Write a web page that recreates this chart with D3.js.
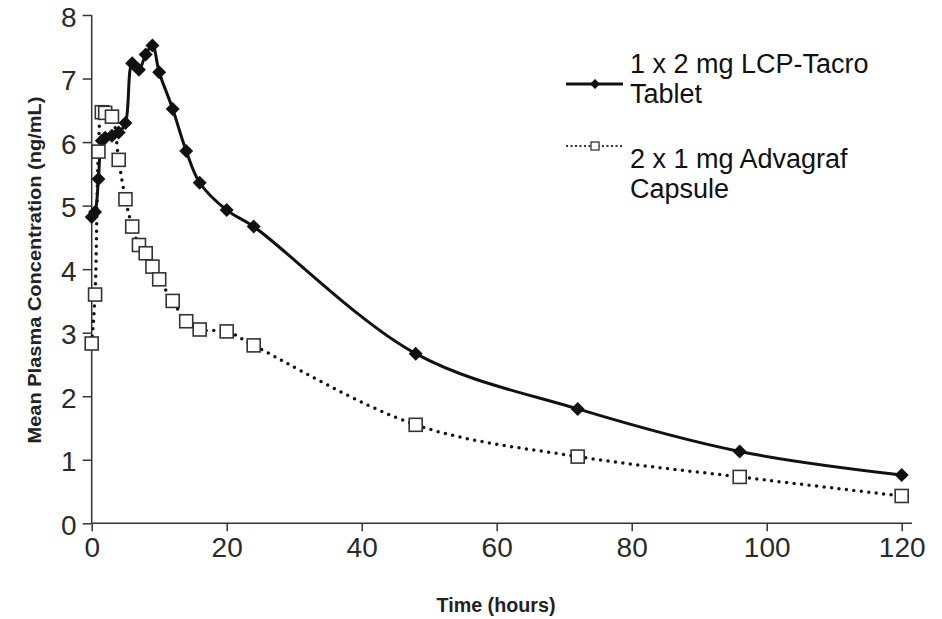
<!DOCTYPE html>
<html>
<head>
<meta charset="utf-8">
<script src="https://cdn.jsdelivr.net/npm/d3@7/dist/d3.min.js"></script>
<style>
  body { margin: 0; background: #fff; }
  svg { display: block; font-family: "Liberation Sans", Arial, sans-serif; }
</style>
</head>
<body>
<div class="chart"></div>
<script>
// sampling times (hours)
var timeHours = [0, 0.5, 1, 1.5, 2, 3, 4, 5, 6, 7, 8, 9, 10, 12, 14, 16, 20, 24, 48, 72, 96, 120];
// mean plasma concentration (ng/mL)
var lcpTacro = [4.82, 4.9, 5.42, 6.02, 6.07, 6.1, 6.15, 6.3, 7.24, 7.14, 7.38, 7.52, 7.1, 6.52, 5.86, 5.36, 4.93, 4.67, 2.67, 1.8, 1.13, 0.76];
var advagraf = [2.83, 3.6, 5.85, 6.47, 6.46, 6.4, 5.72, 5.1, 4.67, 4.38, 4.25, 4.04, 3.84, 3.5, 3.18, 3.05, 3.02, 2.8, 1.55, 1.05, 0.73, 0.43];
var xTicks = [0, 20, 40, 60, 80, 100, 120];
var yTicks = [0, 1, 2, 3, 4, 5, 6, 7, 8];
var seriesNames = [["1 x 2 mg LCP-Tacro", "Tablet"], ["2 x 1 mg Advagraf", "Capsule"]];

var width = 942, height = 619;

var svg = d3.select(".chart")
  .append("svg")
  .attr("width", width)
  .attr("height", height);

var x = d3.scaleLinear().domain([0, 120]).range([91.7, 901.7]);
var y = d3.scaleLinear().domain([0, 8]).range([523.3, 15]);

// y axis
var yAxis = svg.append("g")
  .attr("transform", "translate(" + x(0) + ",0)")
  .call(d3.axisLeft(y).tickValues(yTicks).tickSize(9).tickPadding(6).tickFormat(d3.format("d")));
yAxis.select(".domain").attr("d", "M0," + y(8) + "V" + y(0)).attr("stroke", "#333").attr("stroke-width", 1.5);
yAxis.selectAll(".tick line").attr("stroke", "#333").attr("stroke-width", 1.5);
yAxis.selectAll(".tick text")
  .attr("font-size", 28)
  .attr("dy", "0.4em")
  .attr("fill", "#2a2a2a")
  .attr("font-family", "Liberation Sans, Arial, sans-serif");

// x axis
var xAxis = svg.append("g")
  .attr("transform", "translate(0," + y(0) + ")")
  .call(d3.axisBottom(x).tickValues(xTicks).tickSize(8).tickPadding(6));
xAxis.select(".domain").attr("d", "M" + x(0) + ",0H912").attr("stroke", "#333").attr("stroke-width", 1.5);
xAxis.selectAll(".tick line").attr("stroke", "#333").attr("stroke-width", 1.5);
xAxis.selectAll(".tick text")
  .attr("font-size", 28)
  .attr("fill", "#2a2a2a")
  .attr("font-family", "Liberation Sans, Arial, sans-serif");

// axis titles
svg.append("text")
  .attr("x", 496).attr("y", 612)
  .attr("text-anchor", "middle")
  .attr("font-size", 20).attr("font-weight", "bold").attr("fill", "#222")
  .attr("textLength", 119).attr("lengthAdjust", "spacingAndGlyphs")
  .text("Time (hours)");

svg.append("text")
  .attr("transform", "translate(41,270) rotate(-90)")
  .attr("text-anchor", "middle")
  .attr("font-size", 18).attr("font-weight", "bold").attr("fill", "#222")
  .attr("textLength", 347).attr("lengthAdjust", "spacingAndGlyphs")
  .text("Mean Plasma Concentration (ng/mL)");

var line = d3.line()
  .x(function(d){ return x(d[0]); })
  .y(function(d){ return y(d[1]); })
  .curve(d3.curveCatmullRom.alpha(0.5));

var lcpPts = timeHours.map(function(t, i){ return [t, lcpTacro[i]]; });
var advPts = timeHours.map(function(t, i){ return [t, advagraf[i]]; });

function diamond(r){ return "M0," + (-r) + "L" + r + ",0L0," + r + "L" + (-r) + ",0Z"; }

// Advagraf (dotted, open squares)
svg.append("path")
  .attr("d", line(advPts))
  .attr("fill", "none").attr("stroke", "#111")
  .attr("stroke-width", 3.5).attr("stroke-linecap", "round")
  .attr("stroke-dasharray", "0,7.5");

// LCP-Tacro (solid, diamonds)
svg.append("path")
  .attr("d", line(lcpPts))
  .attr("fill", "none").attr("stroke", "#111")
  .attr("stroke-width", 3);

svg.selectAll(".dia")
  .data(lcpPts).enter()
  .append("path")
  .attr("class", "dia")
  .attr("transform", function(d){ return "translate(" + x(d[0]) + "," + y(d[1]) + ")"; })
  .attr("d", diamond(7))
  .attr("fill", "#111");

svg.selectAll(".sq")
  .data(advPts).enter()
  .append("rect")
  .attr("class", "sq")
  .attr("x", function(d){ return x(d[0]) - 6.5; })
  .attr("y", function(d){ return y(d[1]) - 6.5; })
  .attr("width", 13).attr("height", 13)
  .attr("fill", "#fff").attr("stroke", "#333").attr("stroke-width", 1.6);

// legend
var leg = svg.append("g");
leg.append("line").attr("x1", 566).attr("x2", 623).attr("y1", 84).attr("y2", 84)
  .attr("stroke", "#111").attr("stroke-width", 3);
leg.append("path").attr("transform", "translate(595,84)").attr("d", diamond(5)).attr("fill", "#111");
leg.append("line").attr("x1", 566).attr("x2", 623).attr("y1", 146).attr("y2", 146)
  .attr("stroke", "#333").attr("stroke-width", 2).attr("stroke-dasharray", "2,2.5");
leg.append("rect").attr("x", 591).attr("y", 142).attr("width", 8).attr("height", 8)
  .attr("fill", "#fff").attr("stroke", "#333").attr("stroke-width", 1.3);

var legY = [[73, 103], [168, 198]];
seriesNames.forEach(function(lines, i){
  lines.forEach(function(s, j){
    leg.append("text").attr("x", 630).attr("y", legY[i][j])
      .attr("font-size", 27).attr("fill", "#111")
      .text(s);
  });
});
</script>
</body>
</html>
